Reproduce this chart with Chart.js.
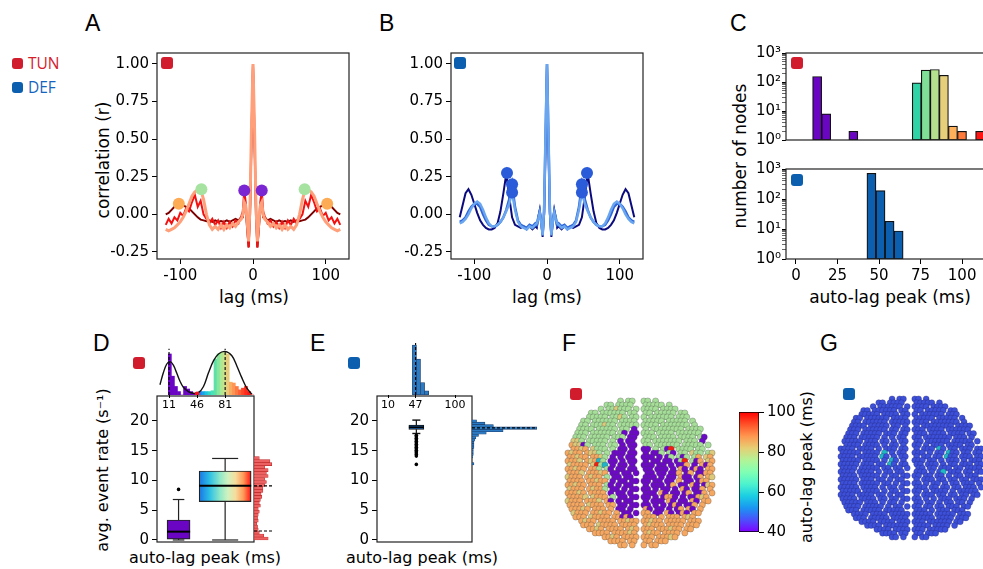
<!DOCTYPE html>
<html>
<head>
<meta charset="utf-8">
<title>auto-lag peaks</title>
<script src="https://cdn.jsdelivr.net/npm/chart.js@4.4.1/dist/chart.umd.min.js"></script>
<style>
  html, body { margin: 0; padding: 0; width: 983px; height: 569px; overflow: hidden; background: #fff; }
  body { position: relative; }
  canvas { position: absolute; }
  .txt { position: absolute; white-space: nowrap; font-family: "DejaVu Sans", sans-serif; color: #000; line-height: 1; transform: translate(-50%, -50%); }
  .rot { transform: translate(-50%, -50%) rotate(-90deg); }
  .letter { position: absolute; font-family: "Liberation Sans", Arial, sans-serif; font-size: 23px; line-height: 1; }
  .mk { position: absolute; width: 12px; height: 12px; border-radius: 3px; }
  .red { background: #d01c2c; }
  .blue { background: #0b5fae; }
  .leg { position: absolute; font-family: "Open Sans", sans-serif; font-size: 15.5px; line-height: 1; }
</style>
</head>
<body>
<!-- panel letters -->
<div class="letter" style="left:85px;top:12px">A</div>
<div class="letter" style="left:379px;top:12px">B</div>
<div class="letter" style="left:730px;top:12px">C</div>
<div class="letter" style="left:93px;top:332px">D</div>
<div class="letter" style="left:310px;top:332px">E</div>
<div class="letter" style="left:562px;top:332px">F</div>
<div class="letter" style="left:820px;top:332px">G</div>

<!-- legend -->
<div class="mk red" style="left:12px;top:58px;width:11px;height:11px"></div>
<div class="leg" style="left:28px;top:56px;color:#d4202a">TUN</div>
<div class="mk blue" style="left:12px;top:82px;width:11px;height:11px"></div>
<div class="leg" style="left:28px;top:80px;color:#1565c0">DEF</div>

<!-- panel markers -->
<div class="mk red" style="left:161px;top:57px"></div>
<div class="mk blue" style="left:454px;top:57px"></div>
<div class="mk red" style="left:791px;top:57px"></div>
<div class="mk blue" style="left:791px;top:174px"></div>
<div class="mk red" style="left:133px;top:357px"></div>
<div class="mk blue" style="left:348px;top:357px"></div>
<div class="mk red" style="left:570px;top:388px"></div>
<div class="mk blue" style="left:843px;top:388px"></div>

<!-- axis titles -->
<div class="txt rot" style="left:103px;top:160px;font-size:17px">correlation (r)</div>
<div class="txt" style="left:254px;top:297px;font-size:17px">lag (ms)</div>
<div class="txt" style="left:547px;top:297px;font-size:17px">lag (ms)</div>
<div class="txt rot" style="left:740px;top:156px;font-size:17px">number of nodes</div>
<div class="txt" style="left:890px;top:297px;font-size:17px">auto-lag peak (ms)</div>
<div class="txt rot" style="left:103px;top:470px;font-size:16px">avg. event rate (s⁻¹)</div>
<div class="txt" style="left:205px;top:558px;font-size:16px">auto-lag peak (ms)</div>
<div class="txt" style="left:422px;top:558px;font-size:16px">auto-lag peak (ms)</div>
<div class="txt rot" style="left:807px;top:467px;font-size:16px">auto-lag peak (ms)</div>

<script>
// ---- data: A / B autocorrelation curves ----
const lags = [-120,-116,-112,-108,-104,-100,-96,-92,-88,-84,-80,-76,-72,-68,-64,-60,-56,-52,-48,-44,-40,-36,-32,-28,-24,-20,-16,
  -14,-12,-10,-8,-6,-4,-2,0,2,4,6,8,10,12,14,
  16,20,24,28,32,36,40,44,48,52,56,60,64,68,72,76,80,84,88,92,96,100,104,108,112,116,120];

const aDark = [0.0,0.01,0.03,0.05,0.065,0.07,0.06,0.05,0.04,0.02,0.0,-0.02,-0.035,-0.04,-0.045,-0.04,-0.05,-0.04,-0.05,-0.045,-0.05,-0.04,-0.05,-0.04,-0.03,-0.04,-0.02,
  -0.02,0.06,0.03,-0.1,-0.22,0.0,0.5,1.0,0.5,0.0,-0.22,-0.1,0.03,0.06,-0.02,
  -0.02,-0.04,-0.03,-0.04,-0.05,-0.04,-0.05,-0.045,-0.05,-0.04,-0.05,-0.04,-0.045,-0.04,-0.035,-0.02,0.0,0.02,0.04,0.05,0.06,0.07,0.065,0.05,0.03,0.01,0.0];
const aRed = [-0.07,-0.03,-0.06,-0.02,-0.04,0.01,-0.01,0.04,0.02,0.08,0.13,0.05,0.09,0.0,-0.03,-0.06,-0.03,-0.07,-0.04,-0.09,-0.05,-0.09,-0.05,-0.08,-0.04,-0.06,-0.01,
  0.02,0.16,0.08,-0.08,-0.22,0.05,0.55,1.0,0.55,0.05,-0.22,-0.08,0.08,0.16,0.02,
  -0.01,-0.06,-0.04,-0.08,-0.05,-0.09,-0.05,-0.09,-0.04,-0.07,-0.03,-0.06,-0.03,0.0,0.09,0.05,0.13,0.08,0.02,0.04,-0.01,0.01,-0.04,-0.02,-0.06,-0.03,-0.07];
const aSalmon = [-0.10,-0.11,-0.10,-0.09,-0.07,-0.05,-0.02,0.02,0.07,0.12,0.15,0.16,0.165,0.1,0.0,-0.07,-0.1,-0.08,-0.1,-0.07,-0.1,-0.07,-0.09,-0.06,-0.08,-0.05,-0.03,
  0.0,0.08,0.06,-0.05,-0.18,0.08,0.6,1.0,0.6,0.08,-0.18,-0.05,0.06,0.08,0.0,
  -0.03,-0.05,-0.08,-0.06,-0.09,-0.07,-0.1,-0.07,-0.1,-0.08,-0.1,-0.07,0.0,0.1,0.165,0.16,0.15,0.12,0.07,0.02,-0.02,-0.05,-0.07,-0.09,-0.10,-0.11,-0.10];
const aDotLag = [-102, -71, -12, 12, 71, 102];
const aDotVal = [0.07, 0.167, 0.158, 0.158, 0.167, 0.07];

const bNavy = [-0.02,0.06,0.14,0.167,0.13,0.07,0.01,-0.04,-0.07,-0.09,-0.1,-0.1,-0.09,-0.06,0.02,0.14,0.27,0.12,-0.02,-0.07,-0.08,-0.09,-0.08,-0.1,-0.08,-0.1,-0.08,
  -0.09,-0.02,0.03,-0.05,-0.15,0.0,0.45,1.0,0.45,0.0,-0.15,-0.05,0.03,-0.02,-0.09,
  -0.08,-0.1,-0.08,-0.1,-0.08,-0.09,-0.08,-0.07,-0.02,0.12,0.27,0.14,0.02,-0.06,-0.09,-0.1,-0.1,-0.09,-0.07,-0.04,0.01,0.07,0.13,0.167,0.14,0.06,-0.02];
const bMid = [-0.05,-0.04,-0.02,0.02,0.05,0.07,0.07,0.05,0.0,-0.04,-0.07,-0.08,-0.08,-0.07,-0.05,-0.02,0.03,0.1,0.2,0.05,-0.04,-0.07,-0.08,-0.09,-0.07,-0.08,-0.06,
  -0.07,-0.02,0.02,-0.05,-0.13,0.02,0.5,1.0,0.5,0.02,-0.13,-0.05,0.02,-0.02,-0.07,
  -0.06,-0.08,-0.07,-0.09,-0.08,-0.07,-0.04,0.05,0.2,0.1,0.03,-0.02,-0.05,-0.07,-0.08,-0.08,-0.07,-0.04,0.0,0.05,0.07,0.07,0.05,0.02,-0.02,-0.04,-0.05];
const bLight = [-0.06,-0.05,-0.03,0.0,0.04,0.07,0.085,0.07,0.03,-0.02,-0.06,-0.08,-0.08,-0.07,-0.05,-0.02,0.02,0.07,0.145,0.03,-0.05,-0.08,-0.09,-0.1,-0.08,-0.09,-0.07,
  -0.06,-0.03,0.01,-0.05,-0.14,0.03,0.55,1.0,0.55,0.03,-0.14,-0.05,0.01,-0.03,-0.06,
  -0.07,-0.09,-0.08,-0.1,-0.09,-0.08,-0.05,0.03,0.145,0.07,0.02,-0.02,-0.05,-0.07,-0.08,-0.08,-0.06,-0.02,0.03,0.07,0.085,0.07,0.04,0.0,-0.03,-0.05,-0.06];
const bDotLag = [-55, -48, -48, 48, 48, 55];
const bDotVal = [0.275, 0.2, 0.145, 0.145, 0.2, 0.275];

const abXTicks = [-100, 0, 100];
const abYTicks = [-0.25, 0, 0.25, 0.5, 0.75, 1.0];

// ---- data: C histograms (log counts) ----
const cTunBins = [12.73, 18.18, 34.53, 72.68, 78.13, 83.58, 89.03, 94.48, 99.93, 110.83];
const cTunCounts = [155, 8, 2, 93, 257, 270, 170, 3, 2, 2];
const cDefBins = [45.43, 50.88, 56.33, 61.78];
const cDefCounts = [720, 190, 18, 8.6];
const cXTicks = [0, 25, 50, 75, 100];
const cMajorTicks = [1, 10, 100, 1000];
const cMajorLabels = ['10⁰', '10¹', '10²', '10³'];

// ---- data: D (TUN) ----
const dBoxPos = [22.9, 81];
const dQ1 = [0.15, 6.45];
const dMed = [1.4, 9.1];
const dQ3 = [3.36, 11.6];
const dLo = [0, 0];
const dHi = [6.8, 13.7];
const dOutliers = [{ x: 22.9, y: 8.5 }];
const deYTicks = [0, 5, 10, 15, 20];

const dTopBins = [12,15.8,19.6,23.4,27.2,31,34.8,38.6,42.4,46.2,50,53.8,57.6,61.4,65.2,69,72.8,76.6,80.4,84.2,88,91.8,95.6,99.4,103.2,107,110.8,114.6];
const dTopHeights = [0.96,0.44,0.2,0.08,0,0.2,0.14,0.08,0.04,0.06,0.08,0.08,0.08,0.08,0.1,0.84,0.96,1.0,1.0,0.96,0.3,0.28,0.2,0.12,0.16,0.2,0.08,0];
const dCurveX = [-0.3,3.9,8,12.2,16.4,20.5,24.7,28.9,35.2,41.4,47.7,54,60.2,66.4,72.7,81,89.4,95.6,101.9,108.1,114.4];
const dCurveY = [0.24,0.52,0.72,0.78,0.70,0.52,0.32,0.18,0.08,0.04,0.056,0.2,0.52,0.8,0.96,1.02,0.92,0.68,0.4,0.16,0.016];
const dTopTicks = [11, 46, 81];
const dSplit = [{ x: 46, y: 0.03 }];

const dRightBins = [0.25,0.75,1.25,1.75,2.25,2.75,3.25,3.75,4.25,4.75,5.25,5.75,6.25,6.75,7.25,7.75,8.25,8.75,9.25,9.75,10.25,10.75,11.25,11.75,12.25,12.75,13.25,13.75];
const dRightLen = [0.8,0.55,0.3,0.24,0.2,0.16,0.24,0.2,0.24,0.3,0.24,0.36,0.3,0.36,0.44,0.4,0.5,0.5,0.6,0.7,0.6,0.8,0.7,0.8,0.6,1.0,0.9,0.3];
const dRightLines = [9.1, 1.5];

// ---- data: E (DEF) ----
const ePos = 48;
const eQ1 = 18.6, eMed = 18.95, eQ3 = 19.3, eLo = 17.9, eHi = 20.15;
const eOutliers = [17.6,17.35,17.1,16.85,16.6,16.35,16.1,15.85,15.6,15.35,15.1,14.85,14.6,14.35,14.1,12.7];
const eTopBins = [45.43, 50.88, 56.33, 61.78];
const eTopHeights = [1.0, 0.72, 0.25, 0.085];
const eTopTicks = [10, 47, 100];
const eRightBins = [12.8,13.2,13.6,14.0,14.4,14.8,15.2,15.6,16.0,16.4,16.8,17.2,17.6,18.0,18.4,18.8,19.2,19.6,20.0];
const eRightLen = [0.03,0,0,0.01,0.02,0.02,0.02,0.03,0.03,0.03,0.04,0.06,0.1,0.22,0.48,1.0,0.33,0.2,0.07];
const eRightLine = 18.85;

// ---- data: F / G node maps (row strings, one char per node) ----
const fLeft = [
  ".............g.gg.", "..........gg.gggg.", "........g.ggyggg.g", "......gg.gggggg.gg",
  ".....ggggg.ggyg.gg", "....gg.gggggg.gggg", "...gg.gggygg.ggggg", "...gggg.ggggg.gg.p",
  "..ggg.gggggg.gp.pp", "..ggg.ggggg.ggg.pp", ".yyg.ggggg.g.p.pp.", ".oyypg.ggg.gg.p.pp",
  ".ooyo.yggg.g.pp.p.", "oyoo.oyyg.g.ppp.pp", "ooyoo.ooyg.p.p.pp.", "oooy.oyotg.pp.p.pp",
  "yoooo.yrgt.p.pp.p.", "ooyoo.oog.gp.pp.pp", "oooy.oooyo.pp.pp.p", "yooo.oyoo.g.pp.pp.",
  "oooo.ooyoo.p.pp.pp", "ooyoo.ooo.gp.p.pp.", "yooo.oyoog.pp.p.pp", "oooyo.oooo.p.pp.p.",
  "ooooy.yooo.g.pp.pp", "yooo.oooy.op.p.pp.", "oooo.yooo.oo.pp.pp", ".oooyo.ooo.o.pp.p.",
  ".yooo.ooyoo.o.pp.p", "..ooo.yoooo.oopop.", "...oyoo.oooo.ooyoo", "....ooo.yoooo.oooo",
  ".....ooyo.oooo.oyo", ".......oooo.ooooyo", ".........ooyo.oooo", "...........oooo.oo",
  ".............oo.o."
];
const fRight = [
  "gg.g", "ggggg.g", "gggg.gggg", "gg.ggggg.gg",
  "g.gggggg.ggg", "ggggg.ggggg.g", "gggg.ggggggg.g", "g.gggggggg.gggg",
  "ggg.gggg.gggggg", "ggg.gggg.gggg.gp", "gg.ggggggg.ggg.p", "gg.gggggg.ggggg.g",
  "pp.g.gpr.gggg.gg", "p.ppg.gp.gg.ygg.gy", "ppp.p.pg.gpg.go.yo", "p.pp.pp.pgr.gpo.yo",
  "ppp.pp.p.ppo.p.opo", "pp.ppp.p.op.pop.oo", ".pp.pp.ppo.po.ppoo", "ppp.p.pp.opp.po.oy",
  "pp.pp.pp.o.pp.poo", "p.ppp.po.pp.op.pyo", "pp.p.pp.p.op.ppo.o", "ppp.op.pp.po.ppo.o",
  "pp.p.poop.p.ppoyo", "p.ppp.op.pp.op.oo", "pp.p.p.pop.ppo.o", "op.pp.p.po.op.o",
  "oo.pp.op.pop.oo", "ooo.o.ooo.oyo", "ooyoo.ooooo.ooo", "oyooo.oooo.ooo",
  "ooo.oooyoo.oo", "oyoo.oooo.o", "ooo.oooyo", "oo.ooo",
  "o.oo"
];
// DEF nodes whose auto-lag peak is higher (teal) [row, col]
const gTeal = [[14, 11], [16, 13], [17, 13], [15, 11], [13, 25], [15, 27], [16, 25], [14, 28], [19, 26]];
const cbTicks = [40, 60, 80, 100];

// ---- styles ----
const RED_MK = '#d01c2c', BLUE_MK = '#0b5fae';
const PURPLE = '#6a05c4';
const aDotColors = ['#fdab55', '#a6e3a0', '#7b26d3', '#7b26d3', '#a6e3a0', '#fdab55'];
const cTunColors = [PURPLE, PURPLE, PURPLE, '#2fd3a6', '#7fdf96', '#b5e08e', '#e6cf7a', '#ffb05a', '#ff7a38', '#ff1414'];
const dTopColors = [PURPLE, PURPLE, PURPLE, PURPLE, PURPLE, PURPLE, PURPLE, PURPLE, PURPLE,
  '#3f4cf2', '#2479ee', '#17a2e9', '#1cc2de', '#2fd6c8', '#47e2b6', '#5fe0a8', '#86e79c', '#a9ea94', '#cde08a',
  '#e6cb7c', '#f8ad63', '#ff9552', '#ff7a43', '#ff5f35', '#ff4428', '#ff2a1a', '#ff1410', '#ff0000'];
const fNodeColors = { g: '#a5df98', y: '#dcc97a', o: '#f6a760', p: '#6d07c9', t: '#1fb5c9', r: '#f41e10' };
const gNodeColor = '#3d50d9', gTealColor = '#1fb8c4';
const rainbowStops = [[0, '#8000ff'], [0.1, '#4d4ffc'], [0.2, '#1a96f2'], [0.3, '#1acee3'], [0.4, '#4df3ce'], [0.5, '#80ffb4'],
  [0.6, '#b3f396'], [0.7, '#e6ce74'], [0.8, '#ff964f'], [0.9, '#ff4f28'], [1, '#ff0000']];
const boxStops = [[0, '#1a74e4'], [0.2, '#2cbfe6'], [0.4, '#8ee8c8'], [0.55, '#cff2c0'], [0.7, '#f6dc9c'], [0.85, '#ff9a58'], [1, '#ff1010']];
const dBoxHalf = [14.4, 32.5];   // half box width in ms
const dBoxPx = [23, 52];

Chart.defaults.font.family = '"DejaVu Sans", sans-serif';
Chart.defaults.color = '#000';
Chart.defaults.animation = false;
Chart.defaults.plugins.legend.display = false;
Chart.defaults.plugins.tooltip.enabled = false;

// box round the plot area, like matplotlib spines
const framePlugin = {
  id: 'frame',
  afterDraw(chart) {
    const a = chart.chartArea, c = chart.ctx;
    c.save();
    c.strokeStyle = '#222';
    c.lineWidth = 1.2;
    c.strokeRect(a.left, a.top, a.right - a.left, a.bottom - a.top);
    c.restore();
  }
};

function mk(id, x, y, w, h) {
  const c = document.createElement('canvas');
  c.id = id; c.width = w; c.height = h;
  c.style.left = x + 'px'; c.style.top = y + 'px';
  c.style.width = w + 'px'; c.style.height = h + 'px';
  document.body.appendChild(c);
  return c;
}

const pts = (xs, ys) => xs.map((x, i) => ({ x, y: ys[i] }));

function curve(ys, color, width) {
  return { data: pts(lags, ys), showLine: true, borderColor: color, borderWidth: width, pointRadius: 0, tension: 0 };
}
function seg(x1, y1, x2, y2, color, width, dash) {
  return { data: [{ x: x1, y: y1 }, { x: x2, y: y2 }], showLine: true, borderColor: color, borderWidth: width,
    borderDash: dash || [], pointRadius: 0, clip: false };
}
// plain hidden linear axis (no bar offset)
const hidden = (min, max, extra) => Object.assign({ type: 'linear', display: false, min, max, offset: false, grid: { offset: false } }, extra || {});

function tickAxis(min, max, ticks, size, fmt, fit, extra) {
  return Object.assign({
    type: 'linear', min, max, offset: false,
    afterBuildTicks: s => { s.ticks = ticks.map(v => ({ value: v })); },
    afterFit: fit,
    grid: { drawOnChartArea: false, drawTicks: true, tickLength: 5, tickColor: '#000', tickWidth: 1, offset: false },
    border: { display: false },
    ticks: { font: { size }, color: '#000', padding: 3, autoSkip: false, maxRotation: 0, minRotation: 0, callback: fmt }
  }, extra || {});
}

// ---------- A ----------
new Chart(mk('cA', 90, 40, 270, 250), {
  type: 'scatter',
  data: { datasets: [
    { data: pts(aDotLag, aDotVal), pointRadius: 6, pointBackgroundColor: aDotColors, pointBorderWidth: 0 },
    curve(aSalmon, '#ffa07a', 3),
    curve(aRed, '#f21111', 2),
    curve(aDark, '#7d0000', 2)
  ] },
  options: {
    responsive: false, devicePixelRatio: 1,
    layout: { padding: { top: 13, right: 11 } },
    scales: {
      x: tickAxis(-132, 132, abXTicks, 15, v => v, s => { s.height = 31; }),
      y: tickAxis(-0.297, 1.073, abYTicks, 15, v => v.toFixed(2), s => { s.width = 67; })
    }
  },
  plugins: [framePlugin]
});

// ---------- B ----------
new Chart(mk('cB', 384, 40, 270, 250), {
  type: 'scatter',
  data: { datasets: [
    { data: pts(bDotLag, bDotVal), pointRadius: 6, pointBackgroundColor: '#2a5bd8', pointBorderWidth: 0 },
    curve(bLight, '#6aa6ef', 2.5),
    curve(bMid, '#2f66d9', 2.5),
    curve(bNavy, '#0a0a7e', 2)
  ] },
  options: {
    responsive: false, devicePixelRatio: 1,
    layout: { padding: { top: 13, right: 11 } },
    scales: {
      x: tickAxis(-132, 132, abXTicks, 15, v => v, s => { s.height = 31; }),
      y: tickAxis(-0.297, 1.073, abYTicks, 15, v => v.toFixed(2), s => { s.width = 67; })
    }
  },
  plugins: [framePlugin]
});

// ---------- C ----------
const cLogTicks = [];
[1, 10, 100].forEach(d => { for (let m = 1; m < 10; m++) cLogTicks.push(d * m); });
cLogTicks.push(1000);

function logAxis() {
  return {
    type: 'logarithmic', min: 1, max: 1000, offset: false,
    afterBuildTicks: s => { s.ticks = cLogTicks.map(v => ({ value: v })); },
    afterFit: s => { s.width = 66; },
    grid: { drawOnChartArea: false, tickLength: 4, tickColor: '#000', offset: false,
      tickWidth: ctx => (ctx.tick && cMajorTicks.includes(ctx.tick.value)) ? 1 : 0.6 },
    border: { display: false },
    ticks: { font: { size: 15 }, color: '#000', padding: 1, autoSkip: false,
      callback: v => { const i = cMajorTicks.indexOf(v); return i >= 0 ? cMajorLabels[i] : ''; } }
  };
}
function histBars(xs, ys, colors) {
  return { type: 'bar', data: pts(xs, ys), backgroundColor: colors, borderColor: '#111', borderWidth: 1.2,
    borderSkipped: false, barPercentage: 1, categoryPercentage: 1, grouped: false };
}

new Chart(mk('cCtop', 720, 40, 290, 110), {
  type: 'scatter',
  data: { datasets: [histBars(cTunBins, cTunCounts, cTunColors)] },
  options: {
    responsive: false, devicePixelRatio: 1,
    layout: { padding: { top: 13, right: 10, bottom: 7 } },
    scales: { x: hidden(-6, 122.8), y: logAxis() }
  },
  plugins: [framePlugin]
});
new Chart(mk('cCbot', 720, 156, 290, 130), {
  type: 'scatter',
  data: { datasets: [histBars(cDefBins, cDefCounts, BLUE_MK)] },
  options: {
    responsive: false, devicePixelRatio: 1,
    layout: { padding: { top: 13, right: 10 } },
    scales: { x: tickAxis(-6, 122.8, cXTicks, 15, v => v, s => { s.height = 27; }), y: logAxis() }
  },
  plugins: [framePlugin]
});

// ---------- D main (box plots) ----------
const dSets = [];
dBoxPos.forEach((p, i) => {
  const hw = dBoxHalf[i], cw = hw / 2;
  dSets.push(seg(p - hw, dMed[i], p + hw, dMed[i], '#000', 2));
  dSets.push(seg(p, dQ3[i], p, dHi[i], '#222', 1.2));
  dSets.push(seg(p, dQ1[i], p, dLo[i], '#222', 1.2));
  dSets.push(seg(p - cw, dHi[i], p + cw, dHi[i], '#222', 1.2));
  dSets.push(seg(p - cw, dLo[i], p + cw, dLo[i], '#222', 1.2));
});
dSets.unshift({ data: dOutliers, pointRadius: 1.8, pointBackgroundColor: '#000', pointBorderWidth: 0 });
const boxGrad = ctx => {
  const ch = ctx.chart;
  if (!ch.chartArea) return '#8ee8c8';
  const xs = ch.scales.x;
  const g = ch.ctx.createLinearGradient(xs.getPixelForValue(dBoxPos[1] - dBoxHalf[1]), 0,
    xs.getPixelForValue(dBoxPos[1] + dBoxHalf[1]), 0);
  boxStops.forEach(([o, c]) => g.addColorStop(o, c));
  return g;
};
dSets.push({ type: 'bar', data: [{ x: dBoxPos[0], y: [dQ1[0], dQ3[0]] }], barThickness: dBoxPx[0], grouped: false,
  backgroundColor: PURPLE, borderColor: '#222', borderWidth: 1.2, borderSkipped: false });
dSets.push({ type: 'bar', data: [{ x: dBoxPos[1], y: [dQ1[1], dQ3[1]] }], barThickness: dBoxPx[1], grouped: false,
  backgroundColor: boxGrad, borderColor: '#222', borderWidth: 1.2, borderSkipped: false });

new Chart(mk('cD', 90, 380, 175, 185), {
  type: 'scatter',
  data: { datasets: dSets },
  options: {
    responsive: false, devicePixelRatio: 1,
    layout: { padding: { top: 16, right: 11, bottom: 23 } },
    scales: {
      x: hidden(-4, 117),
      y: tickAxis(-0.34, 24.2, deYTicks, 15, v => v, s => { s.width = 67; })
    }
  },
  plugins: [framePlugin]
});

// ---------- D top marginal ----------
const smallTicks = { grid: { drawOnChartArea: false, tickLength: 3, tickColor: '#000', offset: false },
  ticks: { font: { size: 11 }, padding: 1, color: '#000', autoSkip: false, maxRotation: 0 } };
new Chart(mk('cDtop', 90, 338, 175, 82), {
  type: 'scatter',
  data: { datasets: [
    { data: dSplit, pointRadius: 2.2, pointBackgroundColor: '#ff1010', pointBorderWidth: 0 },
    seg(dTopTicks[0], 0, dTopTicks[0], 1.08, '#000', 1.1, [3, 2]),
    seg(dTopTicks[2], 0, dTopTicks[2], 1.08, '#000', 1.1, [3, 2]),
    { data: pts(dCurveX, dCurveY), showLine: true, borderColor: '#111', borderWidth: 1.4, pointRadius: 0, tension: 0.35, clip: false },
    { type: 'bar', data: pts(dTopBins, dTopHeights), backgroundColor: dTopColors, borderWidth: 0,
      barPercentage: 1, categoryPercentage: 1, grouped: false }
  ] },
  options: {
    responsive: false, devicePixelRatio: 1,
    layout: { padding: { left: 67, top: 10, right: 11 } },
    scales: {
      x: tickAxis(-4, 117, dTopTicks, 11, v => v, s => { s.height = 25; }, smallTicks),
      y: hidden(0, 1.1)
    }
  }
});

// ---------- D right marginal ----------
new Chart(mk('cDright', 254, 380, 30, 185), {
  type: 'scatter',
  data: { datasets: [
    seg(0, dRightLines[0], 1.07, dRightLines[0], '#000', 1.1, [3, 2]),
    seg(0, dRightLines[1], 1.07, dRightLines[1], '#000', 1.1, [3, 2]),
    { type: 'bar', indexAxis: 'y', data: dRightLen.map((v, i) => ({ x: v, y: dRightBins[i] })),
      backgroundColor: '#ec6262', borderColor: '#c02c2c', borderWidth: 0.6, borderSkipped: false,
      barPercentage: 1, categoryPercentage: 1, grouped: false }
  ] },
  options: {
    responsive: false, devicePixelRatio: 1,
    layout: { padding: { top: 16, bottom: 23, right: 10 } },
    scales: { x: hidden(0, 1.13), y: hidden(-0.34, 24.2) }
  }
});

// ---------- E main ----------
const eHalf = 10, eCap = 5.4;
new Chart(mk('cE', 310, 380, 175, 185), {
  type: 'scatter',
  data: { datasets: [
    seg(ePos - eHalf, eMed, ePos + eHalf, eMed, '#000', 1.6),
    { data: eOutliers.map(v => ({ x: ePos, y: v })), pointRadius: 1.8, pointBackgroundColor: '#000', pointBorderWidth: 0 },
    seg(ePos, eQ3, ePos, eHi, '#111', 1.2),
    seg(ePos, eQ1, ePos, eLo, '#111', 1.2),
    seg(ePos - eCap, eHi, ePos + eCap, eHi, '#111', 1.4),
    seg(ePos - eCap, eLo, ePos + eCap, eLo, '#111', 1.4),
    { type: 'bar', data: [{ x: ePos, y: [eQ1, eQ3] }], barThickness: 15, grouped: false,
      backgroundColor: '#1762ae', borderColor: '#111', borderWidth: 1, borderSkipped: false }
  ] },
  options: {
    responsive: false, devicePixelRatio: 1,
    layout: { padding: { top: 16, right: 13, bottom: 23 } },
    scales: {
      x: hidden(-4.8, 122.7),
      y: tickAxis(-0.34, 24.2, deYTicks, 15, v => v, s => { s.width = 67; })
    }
  },
  plugins: [framePlugin]
});

// ---------- E top marginal ----------
new Chart(mk('cEtop', 310, 328, 175, 92), {
  type: 'scatter',
  data: { datasets: [
    seg(eTopTicks[1], 0, eTopTicks[1], 1.04, '#000', 1.1, [3, 2]),
    { type: 'bar', data: pts(eTopBins, eTopHeights), backgroundColor: '#2b7bc4', borderColor: '#1b3d6b', borderWidth: 0.8,
      borderSkipped: false, barPercentage: 1, categoryPercentage: 1, grouped: false }
  ] },
  options: {
    responsive: false, devicePixelRatio: 1,
    layout: { padding: { left: 67, top: 12, right: 13 } },
    scales: {
      x: tickAxis(-4.8, 122.7, eTopTicks, 11, v => v, s => { s.height = 25; }, smallTicks),
      y: hidden(0, 1.1)
    }
  }
});

// ---------- E right marginal ----------
new Chart(mk('cEright', 472, 380, 75, 185), {
  type: 'scatter',
  data: { datasets: [
    seg(0, eRightLine, 1.0, eRightLine, '#000', 1.1, [3, 2]),
    { type: 'bar', indexAxis: 'y', data: eRightLen.map((v, i) => ({ x: v, y: eRightBins[i] })),
      backgroundColor: '#2b7bc4', borderColor: '#1b3d6b', borderWidth: 0.6, borderSkipped: false,
      barPercentage: 1, categoryPercentage: 1, grouped: false }
  ] },
  options: {
    responsive: false, devicePixelRatio: 1,
    layout: { padding: { top: 16, bottom: 23, right: 7 } },
    scales: { x: hidden(0, 1.05), y: hidden(-0.34, 24.2) }
  }
});

// ---------- F / G brains ----------
function brainNodes(colorOf) {
  const out = { pts: [], colors: [] };
  fLeft.forEach((l, r) => {
    const row = l.padStart(18, '.').slice(-18) + '.' + fRight[r].padEnd(18, '.').slice(0, 18);
    for (let c = 0; c < row.length; c++) {
      const k = row[c];
      if (k === '.') continue;
      const shift = (r % 2) ? (c < 18 ? -0.5 : 0.5) : 0;
      out.pts.push({ x: c + shift, y: r });
      out.colors.push(colorOf(k, r, c));
    }
  });
  return out;
}
function brainChart(id, x, y, w, h, nodes, radius, edge) {
  new Chart(mk(id, x, y, w, h), {
    type: 'scatter',
    data: { datasets: [{ data: nodes.pts, pointRadius: radius, pointBackgroundColor: nodes.colors,
      pointBorderColor: edge, pointBorderWidth: 0.6, clip: false }] },
    options: {
      responsive: false, devicePixelRatio: 1,
      layout: { padding: 6 },
      scales: { x: hidden(-1, 37), y: hidden(-0.5, 36.5, { reverse: true }) }
    }
  });
}
brainChart('cF', 560, 393, 160, 160, brainNodes(k => fNodeColors[k]), 3.1, 'rgba(70,70,70,0.5)');
brainChart('cG', 833, 391, 156, 154,
  brainNodes((k, r, c) => gTeal.some(([tr, tc]) => tr === r && tc === c) ? gTealColor : gNodeColor),
  3.0, 'rgba(30,30,100,0.5)');

// ---------- colorbar ----------
const cbGrad = ctx => {
  const ch = ctx.chart;
  if (!ch.chartArea) return '#80ffb4';
  const a = ch.chartArea;
  const g = ch.ctx.createLinearGradient(0, a.bottom, 0, a.top);
  rainbowStops.forEach(([o, c]) => g.addColorStop(o, c));
  return g;
};
new Chart(mk('cCb', 700, 400, 110, 145), {
  type: 'bar',
  data: { labels: ['cb'], datasets: [{ data: [[40, 100]], backgroundColor: cbGrad, borderColor: '#000', borderWidth: 1,
    borderSkipped: false, barPercentage: 1, categoryPercentage: 1 }] },
  options: {
    responsive: false, devicePixelRatio: 1,
    layout: { padding: { left: 39, top: 12, bottom: 13 } },
    scales: {
      x: { display: false },
      y: tickAxis(40, 100, cbTicks, 15, v => v, s => { s.width = 51; }, { position: 'right' })
    }
  }
});
</script>
</body>
</html>
